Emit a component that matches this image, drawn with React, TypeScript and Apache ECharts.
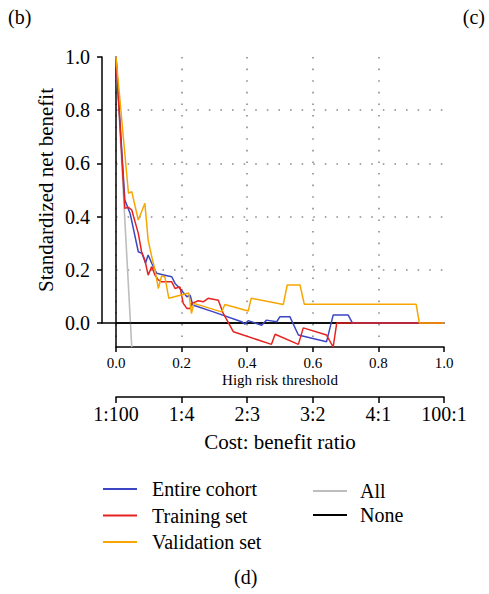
import React, { useEffect, useRef } from "react";
import * as echarts from "echarts";

const thresholdTicks = [0, 0.2, 0.4, 0.6, 0.8, 1.0];
const ratioLabels = ["1:100", "1:4", "2:3", "3:2", "4:1", "100:1"];
const benefitTicks = [0, 0.2, 0.4, 0.6, 0.8, 1.0];

const entireCohort: [number, number][] = [
  [0, 1.0], [0.027, 0.462], [0.043, 0.412], [0.068, 0.268], [0.079, 0.262],
  [0.09, 0.226], [0.098, 0.256], [0.11, 0.222], [0.124, 0.187], [0.149, 0.18],
  [0.17, 0.174], [0.18, 0.149], [0.195, 0.13], [0.216, 0.099], [0.226, 0.105],
  [0.234, 0.068], [0.297, 0.042], [0.383, 0.005], [0.393, -0.004], [0.403, 0.009],
  [0.444, -0.008], [0.459, 0.011], [0.49, 0.005], [0.5, 0.024], [0.53, 0.024],
  [0.556, -0.045], [0.642, -0.07], [0.662, 0.03], [0.708, 0.03], [0.721, 0.0],
  [1.0, 0.0],
];

const trainingSet: [number, number][] = [
  [0, 1.0], [0.027, 0.431], [0.038, 0.435], [0.048, 0.425], [0.068, 0.337],
  [0.078, 0.268], [0.088, 0.237], [0.098, 0.18], [0.109, 0.212], [0.119, 0.18],
  [0.129, 0.162], [0.139, 0.155], [0.17, 0.155], [0.18, 0.13], [0.195, 0.136],
  [0.205, 0.074], [0.216, 0.055], [0.226, 0.055], [0.231, 0.074], [0.251, 0.084],
  [0.266, 0.08], [0.281, 0.093], [0.312, 0.086], [0.327, 0.036], [0.358, -0.033],
  [0.474, -0.08], [0.485, -0.042], [0.556, -0.08], [0.571, -0.018], [0.642, -0.045],
  [0.662, -0.09], [0.673, 0.0], [1.0, 0.0],
];

const validationSet: [number, number][] = [
  [0, 1.0], [0.038, 0.488], [0.048, 0.494], [0.068, 0.387], [0.088, 0.45],
  [0.098, 0.312], [0.109, 0.249], [0.119, 0.199], [0.129, 0.13], [0.139, 0.177],
  [0.149, 0.174], [0.161, 0.093], [0.222, 0.113], [0.23, 0.036], [0.237, 0.074],
  [0.322, 0.042], [0.332, 0.07], [0.403, 0.045], [0.412, 0.093], [0.51, 0.07],
  [0.522, 0.143], [0.561, 0.143], [0.574, 0.071], [0.915, 0.071], [0.925, 0.0],
  [1.0, 0.0],
];

const treatAll: [number, number][] = [[0, 1.0], [0.048, -0.09]];
const treatNone: [number, number][] = [[0, 0], [1.0, 0]];

const FONT = "Liberation Serif";
const dotted = { color: "#8c8c8c", width: 1.6, type: [1.6, 10] as any };

export default function App() {
  const ref = useRef<HTMLDivElement>(null);
  useEffect(() => {
    if (!ref.current) return;
    const chart = echarts.init(ref.current, null, { renderer: "svg" });
    const blank = { axisLine: { show: false }, axisTick: { show: false }, axisLabel: { show: false }, splitLine: { show: false } };
    chart.setOption({
      animation: false,
      backgroundColor: "#fff",
      textStyle: { fontFamily: FONT, color: "#000" },
      title: [
        { text: "(b)", left: 8, top: 7, padding: 0, textStyle: { fontFamily: FONT, fontSize: 20, fontWeight: "normal", color: "#000" } },
        { text: "(c)", right: 4, top: 7, padding: 0, textStyle: { fontFamily: FONT, fontSize: 20, fontWeight: "normal", color: "#000" } },
        { text: "(d)", left: 234, top: 567, padding: 0, textStyle: { fontFamily: FONT, fontSize: 20, fontWeight: "normal", color: "#000" } },
      ],
      grid: [
        { left: 102, top: 57, width: 342, height: 290 },
        { left: 116, top: 346, width: 328, height: 1 },
        { left: 116, top: 396, width: 328, height: 1 },
        { left: 102, top: 57, width: 1, height: 266 },
        { left: 116, top: 57, width: 328, height: 266 },
        { left: 116, top: 57, width: 328, height: 290 },
      ],
      xAxis: [
        { gridIndex: 0, type: "value", min: -0.0427, max: 1, position: "top", ...blank, axisLine: { show: true, lineStyle: { color: "#000", width: 1.5 } } },
        {
          gridIndex: 1, type: "value", min: 0, max: 1, interval: 0.2, position: "bottom",
          axisLine: { show: true, lineStyle: { color: "#000", width: 1.5 } },
          axisTick: { show: true, length: 5, lineStyle: { color: "#000", width: 1.5 } },
          axisLabel: { show: true, margin: 8, fontSize: 15, fontFamily: FONT, color: "#000", formatter: (v: number) => v.toFixed(1) },
          splitLine: { show: false },
          name: "High risk threshold", nameLocation: "middle", nameGap: 25,
          nameTextStyle: { fontSize: 15, fontFamily: FONT, color: "#000" },
        },
        {
          gridIndex: 2, type: "value", min: 0, max: 1, interval: 0.2, position: "bottom",
          axisLine: { show: true, lineStyle: { color: "#000", width: 1.5 } },
          axisTick: { show: true, length: 6, lineStyle: { color: "#000", width: 1.5 } },
          axisLabel: {
            show: true, margin: 7, fontSize: 20, fontFamily: FONT, color: "#000",
            formatter: (v: number) => ratioLabels[thresholdTicks.findIndex((t) => Math.abs(t - v) < 1e-6)] ?? "",
          },
          splitLine: { show: false },
          name: "Cost: benefit ratio", nameLocation: "middle", nameGap: 34,
          nameTextStyle: { fontSize: 21, fontFamily: FONT, color: "#000" },
        },
        { gridIndex: 3, type: "value", min: 0, max: 1, ...blank },
        { gridIndex: 4, type: "value", min: 0, max: 1, ...blank },
        {
          gridIndex: 5, type: "value", min: 0, max: 1, interval: 0.2, ...blank,
          splitLine: { show: true, showMaxLine: false, lineStyle: dotted },
        },
      ],
      yAxis: [
        { gridIndex: 0, type: "value", min: -0.09, max: 1, position: "right", ...blank, axisLine: { show: true, lineStyle: { color: "#000", width: 1.5 } } },
        { gridIndex: 1, type: "value", ...blank },
        { gridIndex: 2, type: "value", ...blank },
        {
          gridIndex: 3, type: "value", min: 0, max: 1, interval: 0.2, position: "left",
          axisLine: { show: true, lineStyle: { color: "#000", width: 1.5 } },
          axisTick: { show: true, length: 5, lineStyle: { color: "#000", width: 1.5 } },
          axisLabel: { show: true, margin: 12, fontSize: 20, fontFamily: FONT, color: "#000", formatter: (v: number) => v.toFixed(1) },
          splitLine: { show: false },
          name: "Standardized net benefit", nameLocation: "middle", nameGap: 46,
          nameTextStyle: { fontSize: 21, fontFamily: FONT, color: "#000" },
        },
        {
          gridIndex: 4, type: "value", min: 0, max: 1, interval: 0.2, ...blank,
          splitLine: { show: true, showMinLine: false, showMaxLine: false, lineStyle: dotted },
        },
        { gridIndex: 5, type: "value", min: 0, max: 1, ...blank },
      ],
      legend: [
        {
          orient: "vertical", left: 103, top: 479, padding: 0, itemGap: 6.5, itemWidth: 34, itemHeight: 2,
          icon: "rect", data: ["Entire cohort", "Training set", "Validation set"],
          textStyle: { fontSize: 20, fontFamily: FONT, color: "#000", padding: [0, 0, 0, 10] },
        },
        {
          orient: "vertical", left: 313, top: 481, padding: 0, itemGap: 4, itemWidth: 34, itemHeight: 2,
          icon: "rect", data: ["All", "None"],
          textStyle: { fontSize: 20, fontFamily: FONT, color: "#000", padding: [0, 0, 0, 8] },
        },
      ],
      series: [
        { name: "All", type: "line", xAxisIndex: 0, yAxisIndex: 0, data: treatAll, showSymbol: false, lineStyle: { color: "#bdbdbd", width: 1.6 }, itemStyle: { color: "#bdbdbd" }, z: 2 },
        { name: "None", type: "line", xAxisIndex: 0, yAxisIndex: 0, data: treatNone, showSymbol: false, lineStyle: { color: "#000", width: 1.4 }, itemStyle: { color: "#000" }, z: 3 },
        { name: "Entire cohort", type: "line", xAxisIndex: 0, yAxisIndex: 0, data: entireCohort, showSymbol: false, lineStyle: { color: "#3b46c4", width: 1.5 }, itemStyle: { color: "#3b46c4" }, z: 4 },
        { name: "Training set", type: "line", xAxisIndex: 0, yAxisIndex: 0, data: trainingSet, showSymbol: false, lineStyle: { color: "#e52320", width: 1.5 }, itemStyle: { color: "#e52320" }, z: 5 },
        { name: "Validation set", type: "line", xAxisIndex: 0, yAxisIndex: 0, data: validationSet, showSymbol: false, lineStyle: { color: "#f7a600", width: 1.5 }, itemStyle: { color: "#f7a600" }, z: 6 },
      ],
    });
    return () => chart.dispose();
  }, []);
  return <div ref={ref} style={{ position: "fixed", left: 0, top: 0, width: 489, height: 594 }} />;
}
